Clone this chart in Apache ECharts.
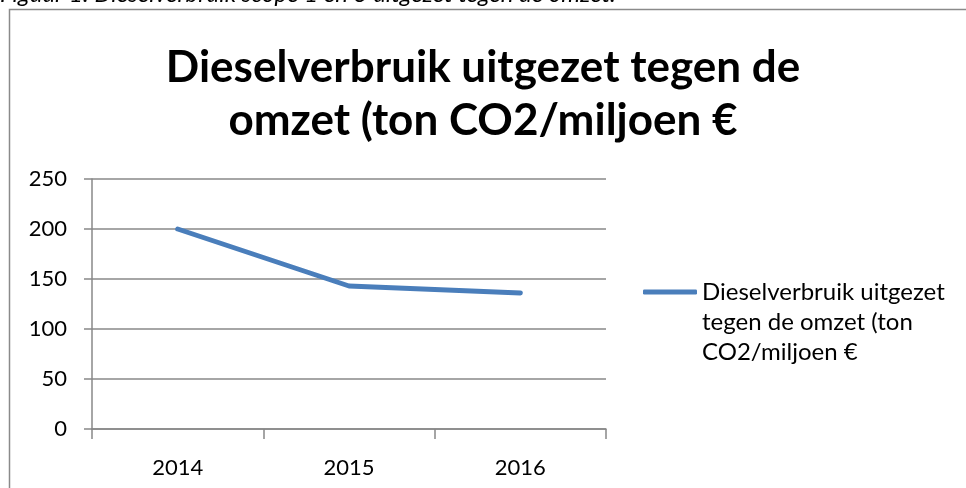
<!DOCTYPE html>
<html>
<head>
<meta charset="utf-8">
<style>
  html, body { margin: 0; padding: 0; background: #fff; }
  #main { width: 966px; height: 488px; }
</style>
<script src="https://cdn.jsdelivr.net/npm/echarts@6/dist/echarts.min.js"></script>
</head>
<body>
<div id="main"></div>
<script>
const years = ['2014', '2015', '2016'];
const diesel = [200, 143, 136];
const seriesName = 'Dieselverbruik uitgezet tegen de omzet (ton CO2/miljoen €';
const titleText = 'Dieselverbruik uitgezet tegen de\nomzet (ton CO2/miljoen €';
const captionText = 'Figuur 1: Dieselverbruik scope 1 en 3 uitgezet tegen de omzet.';

const lineColor = '#4a7ebb', gridColor = '#888888', fontFam = 'Lato, "Open Sans", sans-serif';

let myChart = echarts.init(document.getElementById('main'));
myChart.setOption({
  animation: false,
  title: {
    text: titleText,
    left: 'center',
    top: 36,
    textStyle: { fontFamily: fontFam, fontSize: 44, fontWeight: 'bold', color: '#000', lineHeight: 53 }
  },
  graphic: [
    // figure caption, cut off at the top of the page
    { type: 'text', left: 0, top: -18, style: { text: captionText, font: 'italic 24px ' + fontFam, fill: '#000' } },
    // chart frame
    { type: 'rect', shape: { x: 9.5, y: 9.5, width: 1000, height: 1000 }, style: { fill: 'none', stroke: '#8a8a8a', lineWidth: 1.5 } }
  ],
  legend: {
    left: 638,
    top: 212,
    icon: 'roundRect',
    itemWidth: 54,
    itemHeight: 5,
    itemGap: 0,
    textStyle: { fontFamily: fontFam, fontSize: 24, color: '#000', lineHeight: 30 },
    // two empty lines on top so the first text line sits level with the icon
    formatter: () => '\n\nDieselverbruik uitgezet\ntegen de omzet (ton\nCO2/miljoen €',
    data: [seriesName]
  },
  grid: { left: 92, right: 360, top: 179, bottom: 59 },
  xAxis: {
    type: 'category',
    data: years,
    boundaryGap: true,
    axisLine: { lineStyle: { color: gridColor, width: 1.5 } },
    axisTick: { show: true, length: 10, lineStyle: { color: gridColor, width: 1.5 } },
    axisLabel: { fontFamily: fontFam, fontSize: 22, color: '#000', margin: 28 }
  },
  yAxis: {
    type: 'value',
    min: 0,
    max: 250,
    interval: 50,
    axisLine: { show: true, lineStyle: { color: gridColor, width: 1.5 } },
    axisTick: { show: true, length: 8, lineStyle: { color: gridColor, width: 1.5 } },
    axisLabel: { fontFamily: fontFam, fontSize: 22, color: '#000', margin: 25 },
    splitLine: { lineStyle: { color: gridColor, width: 1.5 } }
  },
  series: [
    {
      name: seriesName,
      type: 'line',
      data: diesel,
      symbol: 'none',
      color: lineColor,
      lineStyle: { width: 5, color: lineColor, cap: 'round', join: 'round' }
    }
  ]
});
</script>
</body>
</html>
